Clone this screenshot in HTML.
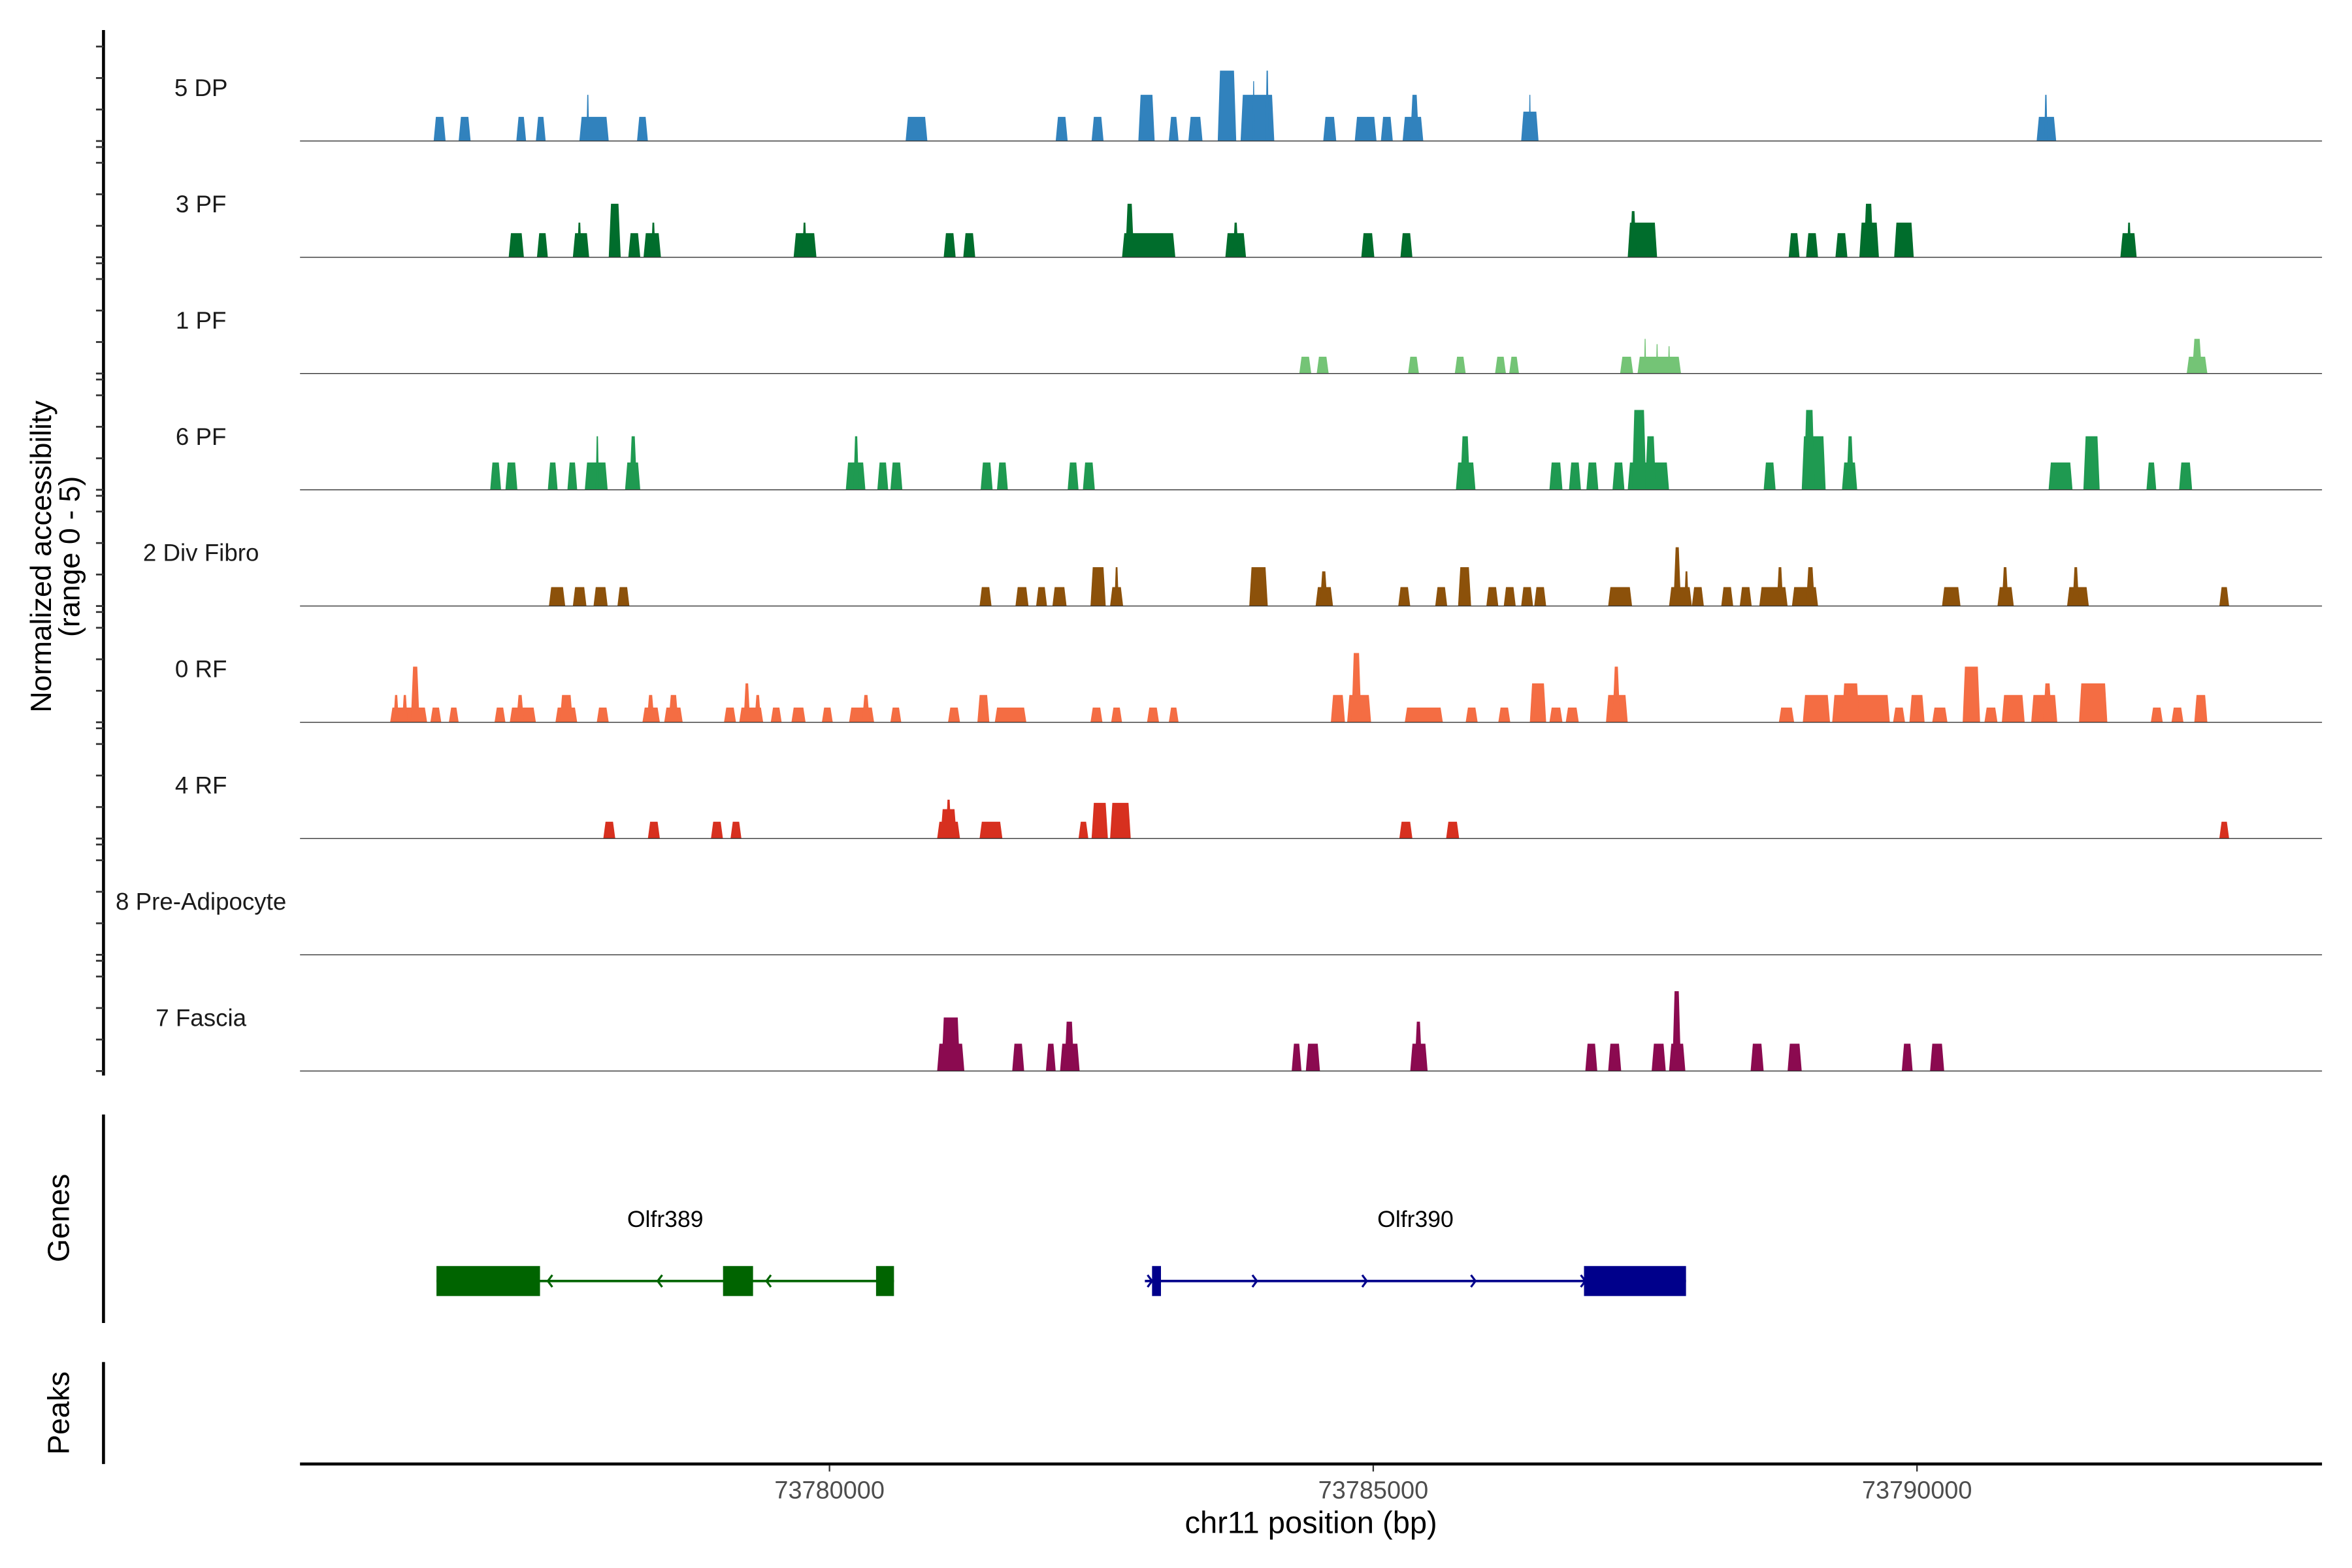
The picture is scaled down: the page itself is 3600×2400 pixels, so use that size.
<!DOCTYPE html>
<html><head><meta charset="utf-8"><style>
html,body{margin:0;padding:0;background:#fff;}
svg{display:block;font-family:"Liberation Sans",Arial,sans-serif;}
</style></head><body>
<svg id="chart" width="3600" height="2400" viewBox="0 0 1568 1045.3" xmlns="http://www.w3.org/2000/svg">
<g id="tracks"></g>
<g id="axes"></g>
<g id="genes"></g>
</svg>
<script>
// positions: bp offset from 73775000; values: normalized accessibility
const REGION_BASE = 73775000;
const trackNames = ["5 DP","3 PF","1 PF","6 PF","2 Div Fibro","0 RF","4 RF","8 Pre-Adipocyte","7 Fascia"];
const trackColors = ["#3182bd","#006d2c","#74c476","#1f9a51","#8c510a","#f46d43","#d7301f","#999999","#8b0a50"];
const peaks5DP = [[1360,1470,1.15],[1590,1700,1.15],[2120,2210,1.15],[2300,2390,1.15],[2700,2970,1.15],[2765,2790,2.2],[3230,3330,1.15],[5700,5900,1.15],[7080,7190,1.15],[7410,7520,1.15],[7840,7990,2.2],[8120,8210,1.15],[8300,8430,1.15],[8570,8740,3.35],[8780,9090,2.2],[8890,8910,2.85],[9010,9040,3.35],[9540,9660,1.15],[9830,10030,1.15],[10070,10180,1.15],[10270,10460,1.15],[10340,10420,2.2],[11360,11520,1.4],[11430,11450,2.2],[16100,16280,1.15],[16170,16200,2.2]];
const peaks3PF = [[2050,2190,1.15],[2310,2410,1.15],[2640,2790,1.15],[2680,2720,1.65],[2970,3080,2.55],[3150,3260,1.15],[3290,3450,1.15],[3360,3400,1.65],[4670,4880,1.15],[4750,4790,1.65],[6050,6160,1.15],[6230,6340,1.15],[7690,8180,1.15],[7720,7800,2.55],[8640,8830,1.15],[8710,8760,1.65],[9890,10010,1.15],[10250,10360,1.15],[12340,12610,1.65],[12360,12420,2.2],[13820,13920,1.15],[13980,14090,1.15],[14250,14360,1.15],[14470,14650,1.65],[14510,14600,2.55],[14790,14970,1.65],[16870,17020,1.15],[16930,16970,1.65]];
const peaks1PF = [[9320,9430,0.8],[9480,9590,0.8],[10320,10420,0.8],[10750,10850,0.8],[11120,11220,0.8],[11250,11340,0.8],[12270,12390,0.8],[12430,12830,0.8],[12490,12510,1.65],[12600,12620,1.4],[12710,12730,1.3],[17480,17670,0.8],[17530,17620,1.65]];
const peaks6PF = [[1880,1980,1.3],[2020,2130,1.3],[2410,2500,1.3],[2590,2680,1.3],[2750,2960,1.3],[2850,2880,2.55],[3120,3260,1.3],[3160,3230,2.55],[5150,5330,1.3],[5220,5270,2.55],[5440,5540,1.3],[5560,5670,1.3],[6390,6500,1.3],[6540,6640,1.3],[7190,7290,1.3],[7330,7440,1.3],[10760,10940,1.3],[10800,10890,2.55],[11620,11740,1.3],[11800,11910,1.3],[11960,12070,1.3],[12200,12310,1.3],[12340,12720,1.3],[12380,12510,3.8],[12500,12600,2.55],[13590,13700,1.3],[13940,14160,2.55],[13960,14060,3.8],[14310,14450,1.3],[14350,14420,2.55],[16210,16430,1.3],[16530,16680,2.55],[17110,17200,1.3],[17410,17530,1.3]];
const peaksDiv = [[2420,2570,0.9],[2640,2765,0.9],[2830,2960,0.9],[3050,3160,0.9],[6380,6490,0.9],[6710,6830,0.9],[6900,7000,0.9],[7050,7180,0.9],[7400,7540,1.85],[7580,7700,0.9],[7620,7660,1.85],[8860,9030,1.85],[9470,9630,0.9],[9510,9580,1.65],[10230,10340,0.9],[10570,10680,0.9],[10780,10900,1.85],[11040,11150,0.9],[11200,11310,0.9],[11360,11470,0.9],[11480,11590,0.9],[12160,12380,0.9],[12720,12930,0.9],[12760,12830,2.8],[12860,12900,1.65],[12930,13040,0.9],[13200,13310,0.9],[13370,13480,0.9],[13550,13810,0.9],[13710,13770,1.85],[13850,14090,0.9],[13980,14060,1.85],[15230,15400,0.9],[15740,15890,0.9],[15780,15840,1.85],[16380,16580,0.9],[16430,16490,1.85],[17780,17870,0.9]];
const peaks0RF = [[960,1300,0.7],[990,1040,1.3],[1070,1120,1.3],[1150,1230,2.65],[1330,1430,0.7],[1500,1590,0.7],[1920,2020,0.7],[2060,2300,0.7],[2120,2190,1.3],[2480,2680,0.7],[2520,2640,1.3],[2860,2970,0.7],[3280,3440,0.7],[3320,3390,1.3],[3480,3650,0.7],[3520,3610,1.3],[4030,4140,0.7],[4170,4390,0.7],[4210,4270,1.85],[4310,4370,1.3],[4460,4560,0.7],[4650,4780,0.7],[4930,5030,0.7],[5180,5410,0.7],[5300,5370,1.3],[5560,5660,0.7],[6090,6200,0.7],[6360,6470,1.3],[6520,6810,0.7],[7400,7510,0.7],[7590,7690,0.7],[7920,8030,0.7],[8120,8210,0.7],[9610,9740,1.3],[9760,9980,1.3],[9800,9890,3.3],[10290,10640,0.7],[10850,10960,0.7],[11150,11260,0.7],[11440,11590,1.85],[11620,11740,0.7],[11770,11890,0.7],[12140,12340,1.3],[12200,12270,2.65],[13730,13870,0.7],[13950,14200,1.3],[14220,14750,1.3],[14310,14470,1.85],[14780,14890,0.7],[14930,15070,1.3],[15140,15280,0.7],[15420,15580,2.65],[15620,15740,0.7],[15780,15990,1.3],[16050,16290,1.3],[16160,16240,1.85],[16490,16750,1.85],[17150,17260,0.7],[17340,17450,0.7],[17550,17670,1.3]];
const peaks4RF = [[2920,3030,0.8],[3330,3440,0.8],[3910,4020,0.8],[4090,4190,0.8],[5990,6200,0.8],[6020,6170,1.4],[6070,6120,1.85],[6380,6590,0.8],[7290,7380,0.8],[7410,7560,1.7],[7580,7770,1.7],[10240,10360,0.8],[10670,10790,0.8],[17780,17870,0.8]];
const peaksPre = [];
const peaksFascia = [[5990,6240,1.3],[6030,6200,2.55],[6680,6790,1.3],[6990,7080,1.3],[7120,7300,1.3],[7160,7250,2.35],[9250,9340,1.3],[9380,9510,1.3],[10340,10500,1.3],[10380,10450,2.35],[11950,12060,1.3],[12160,12280,1.3],[12560,12690,1.3],[12720,12870,1.3],[12750,12830,3.8],[13470,13590,1.3],[13810,13940,1.3],[14860,14960,1.3],[15120,15250,1.3]];
const trackPeaks = [peaks5DP,peaks3PF,peaks1PF,peaks6PF,peaksDiv,peaks0RF,peaks4RF,peaksPre,peaksFascia];
const xTicks = [73780000,73785000,73790000];
const tickLabels = ["73780000","73785000","73790000"];
// genes
const geneNames = ["Olfr389","Olfr390"];
const geneStrand = [-1,1];
const geneSpan = [[73776386,73780593],[73782900,73787876]];
const geneExons = [[[73776386,73777338],[73779021,73779297],[73780428,73780593]],[[73782966,73783048],[73786938,73787876]]];
const geneArrows = [[73777410,73778420,73779420,73780440],[73782966,73783930,73784940,73785940,73786950]];
const geneColors = ["#006400","#00008b"];

const NS="http://www.w3.org/2000/svg";
const X0=200,X1=1548,REF=73780000,PXPERBP=72.5/1000;
function xs(bp){return 553+(bp-REF)*PXPERBP;}
const base0=94,trackStep=77.5,unitPx=14;
function baseY(i){return base0+i*trackStep;}
function ys(i,v){return baseY(i)-v*unitPx;}
function mk(tag,attrs,parent){const e=document.createElementNS(NS,tag);for(const k in attrs)e.setAttribute(k,attrs[k]);parent.appendChild(e);return e;}
const gT=document.getElementById('tracks'),gA=document.getElementById('axes'),gG=document.getElementById('genes');

trackNames.forEach((name,i)=>{
  const g=mk('g',{},gT);
  
  
  const lab=mk('text',{x:134,y:baseY(i)-30,'text-anchor':'middle','font-size':16,fill:'#1a1a1a'},g);
  lab.textContent=name;
  
  
  trackPeaks[i].forEach(p=>{
    const a=xs(REGION_BASE+p[0]),b=xs(REGION_BASE+p[1]),t=ys(i,p[2]),y0=baseY(i);
    const w=b-a,ins=Math.min(1.5,w*0.3);
    const pg=mk('polygon',{points:`${a},${y0} ${a+ins},${t} ${b-ins},${t} ${b},${y0}`,fill:trackColors[i]},g);
    
    
  });
  const bl=mk('line',{x1:X0,x2:X1,y1:baseY(i),y2:baseY(i),stroke:'#333',"stroke-width":0.6},g);
  
  
});

// left axis
const la=mk('line',{x1:69,x2:69,y1:20,y2:717,stroke:'#000','stroke-width':2},gA);


for(let i=0;i<trackNames.length;i++){
  for(let k=0;k<4;k++){
    const y=baseY(i)-k*21;
    if(y<22)continue;
    const tk=mk('line',{x1:64,x2:69,y1:y,y2:y,stroke:'#333','stroke-width':1.2},gA);
    
    
  }
  const y=baseY(i)+4;
  if(y<716){const tk=mk('line',{x1:64,x2:69,y1:y,y2:y,stroke:'#333','stroke-width':1.2},gA);
  
  }
}
const yt=mk('text',{transform:'translate(34,371) rotate(-90)','text-anchor':'middle','font-size':19.5,fill:'#000'},gA);


const t1=mk('tspan',{x:0,dy:0},yt);t1.textContent='Normalized accessibility';
const t2=mk('tspan',{x:0,dy:19},yt);t2.textContent='(range 0 - 5)';

[["Genes",743,882,812],["Peaks",908,976,942]].forEach(s=>{
  const l=mk('line',{x1:69,x2:69,y1:s[1],y2:s[2],stroke:'#000','stroke-width':2},gA);
  
  
  const t=mk('text',{transform:`translate(46,${s[3]}) rotate(-90)`,'text-anchor':'middle','font-size':20,fill:'#000'},gA);
  t.textContent=s[0];
  
  
});

// x axis
const xa=mk('line',{x1:X0,x2:X1,y1:976,y2:976,stroke:'#000','stroke-width':2},gA);


xTicks.forEach((v,i)=>{
  const x=xs(v);
  const tk=mk('line',{x1:x,x2:x,y1:977,y2:981,stroke:'#333','stroke-width':1},gA);
  
  
  const t=mk('text',{x:x,y:999,'text-anchor':'middle','font-size':16.5,fill:'#4d4d4d'},gA);
  t.textContent=tickLabels[i];
  
  
});
const xt=mk('text',{x:874,y:1022,'text-anchor':'middle','font-size':20.5,fill:'#000'},gA);
xt.textContent='chr11 position (bp)';



// genes
geneNames.forEach((n,gi)=>{
  const g=mk('g',{},gG);
  
  
  const c=geneColors[gi],a=xs(geneSpan[gi][0]),b=xs(geneSpan[gi][1]),y=854;
  const ln=mk('line',{x1:a,x2:b,y1:y,y2:y,stroke:c,'stroke-width':1.6},g);
  
  
  const d=geneStrand[gi];
  geneArrows[gi].forEach(bp=>{
    const x=xs(bp);
    const ar=mk('polyline',{points:`${x-3*d},${y-4} ${x},${y} ${x-3*d},${y+4}`,fill:'none',stroke:c,'stroke-width':1.4},g);
    
    
  });
  geneExons[gi].forEach(e=>{
    const r=mk('rect',{x:xs(e[0]),y:844,width:xs(e[1])-xs(e[0]),height:20,fill:c},g);
    
    
  });
  const t=mk('text',{x:(a+b)/2,y:818,'text-anchor':'middle','font-size':15.5,fill:'#000'},g);
  t.textContent=n;
  
  
});
</script>
</body></html>
